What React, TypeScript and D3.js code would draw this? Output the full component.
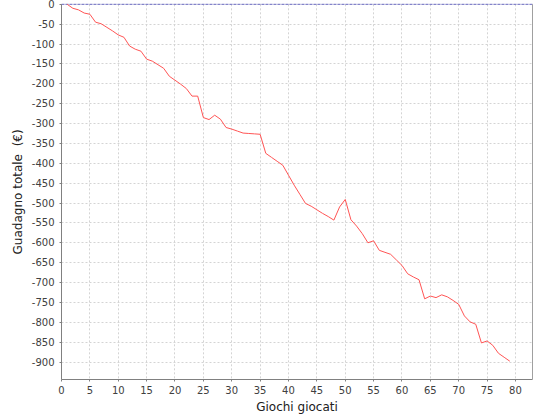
import * as d3 from 'd3';
import { useEffect } from 'react';

// games played and cumulative total gain (€)
const games = d3.range(1, 80);
const gain = [
  0, -10, -14, -22, -25, -45, -49, -58, -67, -77,
  -83, -105, -113, -118, -138, -143, -152, -161, -181, -191,
  -201, -212, -231, -231, -285, -290, -279, -289, -310, -314,
  -319, -324, -325, -326, -327, -375, -385, -395, -405, -430,
  -455, -478, -501, -508, -517, -526, -534, -543, -510, -491,
  -542, -558, -577, -600, -595, -619, -624, -629, -643, -657,
  -678, -686, -693, -741, -734, -738, -731, -736, -745, -755,
  -784, -799, -805, -852, -847, -858, -878, -888, -898,
];
const xTicks = d3.range(0, 81, 5);
const yTicks = d3.range(0, -901, -50);
const xDomain: [number, number] = [0, 83];
const yDomain: [number, number] = [-944, 0];

const W = 540;
const H = 420;
const plot = { left: 61.5, right: 532.5, top: 4.3, bottom: 379.5 };
const FONT = '"DejaVu Sans", sans-serif';

export default function App() {
  useEffect(() => {
    document.body.style.margin = '0';
  }, []);

  const x = d3.scaleLinear().domain(xDomain).range([plot.left, plot.right]);
  const y = d3.scaleLinear().domain(yDomain).range([plot.bottom, plot.top]);
  const snap = (v: number) => Math.round(v - 0.5) + 0.5;

  const line = d3.line<number>()
    .x((_, i) => x(games[i]))
    .y(d => y(d));

  return (
    <svg width={W} height={H} style={{ display: 'block', background: '#fff' }}>
      {/* grid */}
      <g stroke="#d4d4d4" strokeWidth={1} strokeDasharray="2,2">
        {xTicks.map(t => (
          <line key={'gx' + t} x1={snap(x(t))} x2={snap(x(t))} y1={plot.top} y2={plot.bottom} />
        ))}
        {yTicks.map(t => (
          <line key={'gy' + t} x1={plot.left} x2={plot.right} y1={snap(y(t))} y2={snap(y(t))} />
        ))}
      </g>

      {/* zero line */}
      <line x1={plot.left} x2={plot.right} y1={y(0)} y2={y(0)} stroke="#7b7bc8" strokeWidth={1.2}
        strokeDasharray="3,1" opacity={0.9} />

      {/* series */}
      <path d={line(gain) || ''} fill="none" stroke="#ff5555" strokeWidth={1} />

      {/* axes */}
      <g stroke="#808080" strokeWidth={1}>
        <line x1={plot.left} x2={plot.left} y1={plot.top} y2={plot.bottom} />
        <line x1={plot.left} x2={plot.right} y1={plot.bottom} y2={plot.bottom} />
        <line x1={plot.right} x2={plot.right} y1={plot.top} y2={plot.bottom} stroke="#a0a0a0" />
        {yTicks.map(t => (
          <line key={'ty' + t} x1={plot.left - 2} x2={plot.left} y1={snap(y(t))} y2={snap(y(t))} />
        ))}
        {xTicks.map(t => (
          <line key={'tx' + t} x1={snap(x(t))} x2={snap(x(t))} y1={plot.bottom} y2={plot.bottom + 2} />
        ))}
      </g>

      <g fontFamily={FONT} fontSize={10} fill="#404040">
        {yTicks.map(t => (
          <text key={'ly' + t} x={plot.left - 7} y={y(t)} dy="0.35em" textAnchor="end">{t}</text>
        ))}
        {xTicks.map(t => (
          <text key={'lx' + t} x={x(t)} y={plot.bottom + 14} textAnchor="middle">{t}</text>
        ))}
      </g>

      <text x={(plot.left + plot.right) / 2} y={411} textAnchor="middle" fontFamily={FONT} fontSize={12} fill="#202020">
        Giochi giocati
      </text>
      <text transform={`translate(22,${(plot.top + plot.bottom) / 2}) rotate(-90)`} textAnchor="middle"
        fontFamily={FONT} fontSize={12} fill="#202020" style={{ whiteSpace: 'pre' }}>
        {'Guadagno totale  (€)'}
      </text>
    </svg>
  );
}
